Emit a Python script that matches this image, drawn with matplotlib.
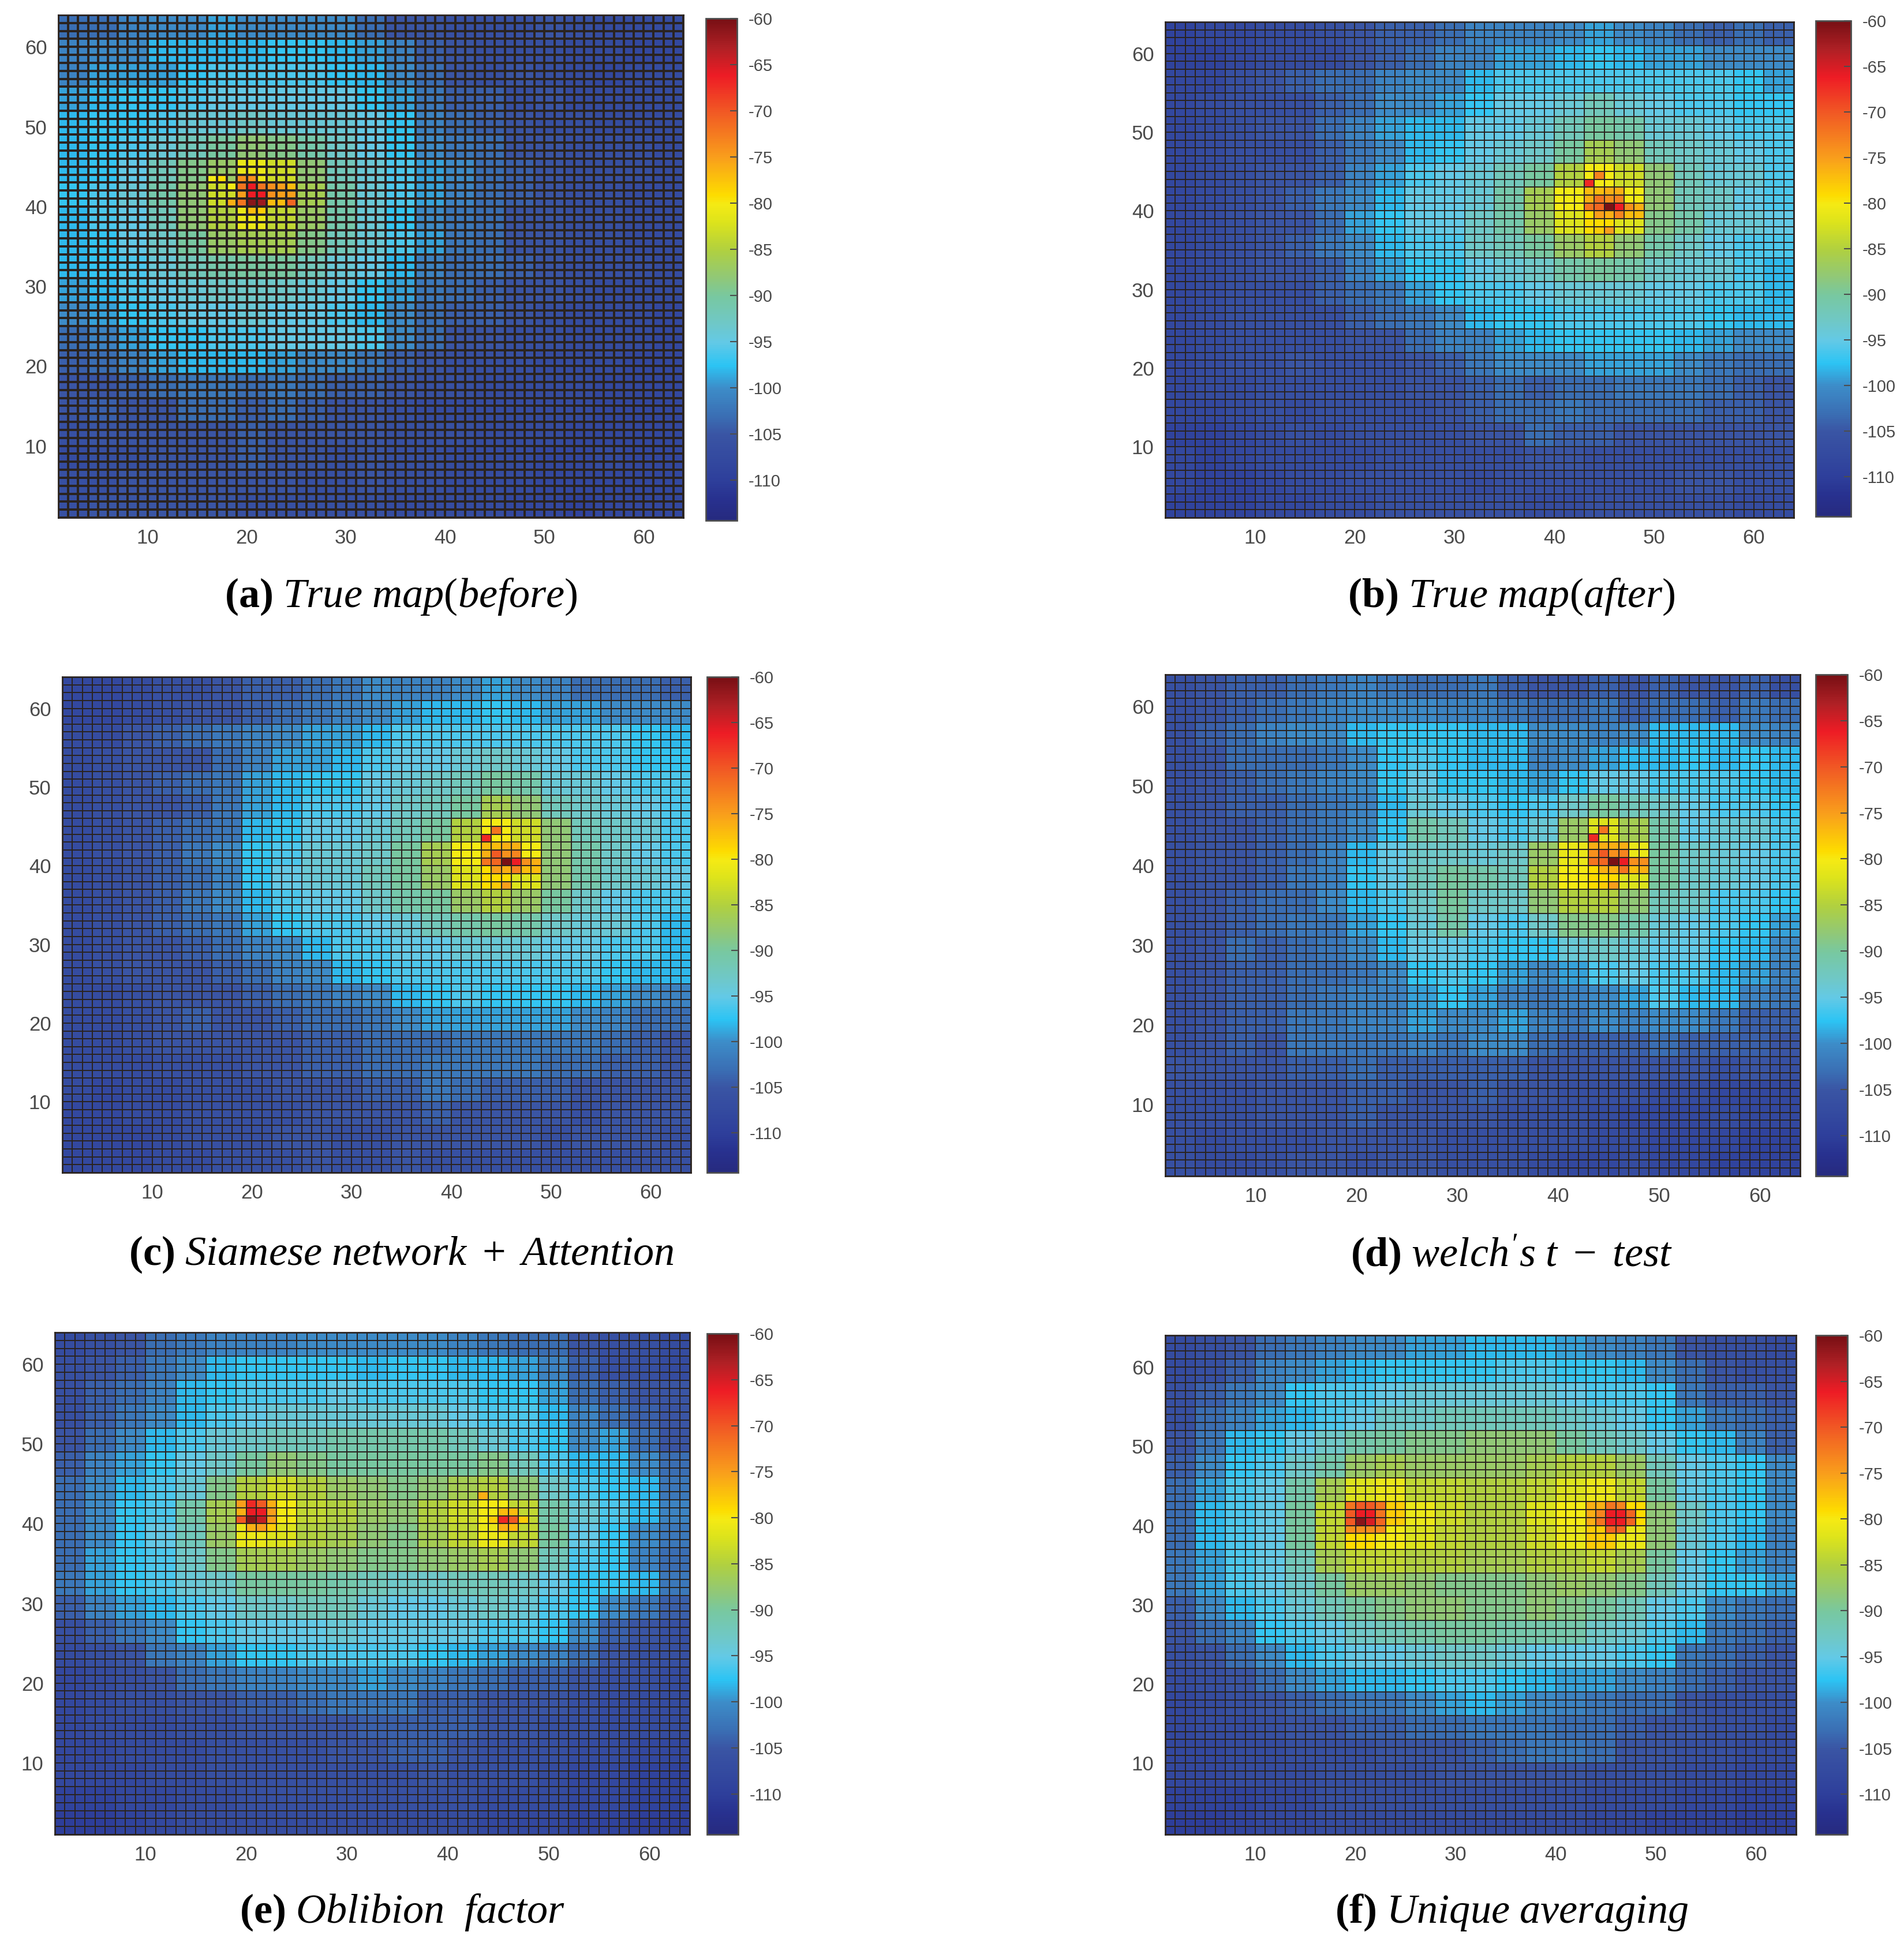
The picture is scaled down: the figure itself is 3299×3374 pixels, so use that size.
import numpy as np
import matplotlib
matplotlib.use("Agg")
import matplotlib.pyplot as plt
from matplotlib.colors import LinearSegmentedColormap

# Valores, en bloques de 3x3 celdas.
# Filas de arriba (y=62.5) hacia abajo (y=2.5), columnas de x=2.5 a x=62.5
MAP_A = [
    [-103,-103,-101,-100,-100,-99,-100,-100,-100,-100,-103,-105,-105,-106,-106,-106,-105,-106,-107,-107,-107],
    [-101,-100,-100,-98,-98,-98,-98,-97,-97,-98,-99,-101,-104,-105,-106,-106,-106,-107,-107,-108,-108],
    [-101,-99,-99,-99,-97,-96,-96,-96,-96,-97,-98,-100,-103,-105,-106,-105,-106,-107,-108,-107,-107],
    [-99,-98,-97,-97,-96,-95,-95,-95,-95,-95,-97,-99,-102,-104,-104,-106,-105,-107,-107,-107,-107],
    [-98,-97,-97,-96,-94,-94,-93,-94,-94,-94,-95,-97,-101,-103,-104,-105,-106,-106,-107,-107,-107],
    [-98,-97,-96,-94,-92,-90,-88,-89,-91,-93,-95,-97,-100,-102,-103,-105,-105,-106,-106,-106,-107],
    [-98,-97,-95,-92,-89,-87,-81,-83,-88,-92,-94,-96,-99,-100,-103,-104,-105,-106,-106,-106,-107],
    [-97,-96,-94,-91,-88,-83,-78,-80,-86,-91,-94,-96,-99,-101,-103,-104,-105,-106,-106,-107,-107],
    [-98,-96,-95,-92,-88,-85,-81,-84,-87,-91,-94,-97,-100,-102,-103,-105,-105,-106,-106,-107,-107],
    [-98,-97,-95,-93,-90,-87,-86,-86,-89,-92,-94,-96,-99,-102,-103,-105,-105,-106,-106,-107,-107],
    [-98,-97,-96,-94,-92,-91,-90,-90,-92,-94,-95,-98,-101,-103,-103,-104,-105,-106,-106,-106,-107],
    [-99,-98,-96,-95,-94,-93,-93,-93,-94,-95,-97,-99,-102,-103,-104,-105,-105,-106,-107,-107,-107],
    [-100,-99,-97,-96,-95,-95,-94,-95,-95,-96,-98,-100,-103,-104,-104,-105,-106,-107,-107,-107,-108],
    [-103,-101,-99,-97,-97,-96,-96,-95,-95,-95,-96,-100,-103,-105,-105,-106,-106,-107,-107,-107,-108],
    [-104,-103,-101,-99,-98,-98,-98,-99,-100,-100,-102,-104,-105,-106,-106,-106,-107,-107,-107,-108,-108],
    [-105,-105,-104,-103,-102,-102,-103,-102,-103,-104,-104,-105,-106,-106,-107,-107,-107,-107,-108,-108,-108],
    [-105,-104,-105,-105,-103,-103,-104,-103,-104,-105,-105,-106,-107,-107,-107,-107,-107,-107,-108,-108,-108],
    [-106,-105,-105,-105,-105,-105,-104,-105,-105,-105,-105,-106,-106,-106,-107,-107,-107,-108,-108,-108,-108],
    [-107,-106,-106,-105,-105,-105,-104,-105,-105,-106,-105,-106,-106,-107,-107,-107,-108,-108,-107,-108,-108],
    [-106,-106,-105,-105,-105,-105,-105,-105,-106,-106,-105,-106,-106,-107,-107,-107,-108,-108,-108,-108,-108],
    [-106,-105,-105,-105,-105,-105,-106,-106,-106,-106,-106,-107,-107,-107,-107,-108,-108,-109,-108,-108,-108],
]
MAP_B = [
    [-109,-108,-108,-107,-107,-106,-105,-104,-104,-103,-101,-101,-101,-100,-99,-100,-101,-103,-104,-103,-104],
    [-109,-109,-108,-107,-107,-107,-105,-104,-103,-101,-101,-99,-99,-98,-97,-98,-99,-99,-100,-100,-100],
    [-108,-108,-106,-105,-104,-103,-103,-101,-100,-100,-98,-96,-96,-96,-96,-96,-96,-96,-96,-97,-99],
    [-108,-107,-106,-106,-106,-104,-103,-100,-100,-99,-97,-95,-95,-94,-92,-94,-95,-96,-96,-97,-97],
    [-108,-107,-106,-105,-105,-103,-101,-99,-98,-98,-95,-95,-94,-92,-90,-91,-94,-94,-95,-96,-96],
    [-108,-107,-106,-106,-106,-104,-102,-100,-98,-97,-95,-94,-93,-90,-86,-88,-92,-93,-94,-95,-96],
    [-108,-107,-106,-105,-105,-104,-101,-99,-96,-95,-94,-92,-90,-85,-80,-83,-88,-92,-94,-94,-96],
    [-108,-107,-106,-105,-104,-102,-100,-98,-95,-95,-94,-91,-86,-80,-77,-80,-88,-92,-93,-95,-96],
    [-108,-107,-106,-105,-105,-103,-99,-97,-95,-95,-93,-91,-87,-82,-79,-82,-89,-91,-94,-94,-95],
    [-108,-107,-106,-105,-104,-102,-100,-98,-96,-96,-93,-92,-90,-87,-85,-88,-91,-93,-95,-96,-96],
    [-108,-107,-106,-105,-105,-104,-101,-99,-97,-97,-95,-94,-93,-91,-90,-91,-93,-94,-94,-96,-98],
    [-108,-107,-106,-106,-106,-104,-103,-102,-99,-97,-96,-96,-95,-94,-94,-94,-95,-95,-96,-96,-98],
    [-108,-107,-106,-106,-106,-106,-104,-103,-102,-100,-98,-97,-97,-96,-96,-96,-96,-96,-97,-98,-98],
    [-108,-107,-106,-106,-106,-106,-105,-105,-103,-101,-101,-99,-98,-97,-97,-97,-97,-98,-99,-100,-100],
    [-108,-107,-106,-106,-105,-106,-106,-106,-105,-104,-102,-100,-100,-100,-99,-99,-99,-100,-102,-103,-103],
    [-108,-107,-107,-106,-106,-106,-106,-106,-105,-105,-104,-103,-104,-103,-103,-102,-102,-102,-103,-104,-105],
    [-108,-108,-107,-106,-107,-106,-106,-106,-106,-105,-104,-103,-103,-102,-103,-103,-103,-103,-104,-104,-105],
    [-109,-109,-108,-107,-106,-107,-106,-106,-106,-106,-105,-105,-103,-104,-104,-105,-105,-105,-105,-105,-105],
    [-108,-109,-108,-107,-107,-107,-107,-106,-106,-106,-106,-106,-105,-105,-106,-106,-106,-106,-106,-106,-106],
    [-108,-109,-109,-108,-107,-107,-106,-106,-106,-106,-107,-106,-106,-106,-106,-106,-106,-105,-105,-106,-106],
    [-109,-109,-109,-108,-108,-107,-107,-106,-106,-106,-106,-106,-107,-107,-106,-106,-106,-106,-106,-107,-107],
]
MAP_C = [
    [-108,-108,-107,-106,-106,-105,-104,-104,-103,-102,-100,-101,-101,-100,-99,-100,-101,-103,-103,-103,-104],
    [-108,-108,-107,-106,-105,-105,-104,-103,-102,-101,-100,-99,-98,-98,-97,-98,-99,-99,-100,-100,-100],
    [-107,-107,-105,-104,-103,-102,-101,-100,-99,-99,-98,-96,-96,-96,-96,-96,-96,-96,-96,-97,-98],
    [-107,-106,-105,-105,-105,-103,-101,-99,-99,-98,-96,-95,-95,-94,-93,-94,-95,-96,-96,-97,-97],
    [-107,-106,-105,-104,-103,-102,-99,-98,-97,-97,-95,-94,-93,-92,-90,-91,-94,-94,-95,-96,-96],
    [-107,-106,-105,-105,-104,-102,-99,-98,-96,-96,-95,-93,-92,-90,-86,-88,-92,-93,-94,-95,-96],
    [-107,-106,-105,-104,-103,-102,-98,-97,-95,-95,-94,-92,-90,-85,-80,-83,-88,-92,-93,-94,-96],
    [-107,-106,-105,-104,-102,-100,-97,-96,-94,-94,-93,-90,-86,-80,-77,-80,-88,-91,-93,-95,-96],
    [-107,-106,-105,-104,-103,-101,-97,-95,-94,-94,-92,-90,-87,-82,-79,-82,-88,-91,-93,-94,-95],
    [-107,-106,-105,-104,-102,-100,-98,-96,-95,-95,-93,-91,-90,-87,-85,-87,-90,-93,-95,-96,-96],
    [-107,-106,-105,-104,-103,-102,-99,-97,-96,-96,-95,-94,-92,-91,-90,-91,-93,-94,-94,-96,-98],
    [-107,-106,-105,-105,-104,-103,-101,-100,-98,-96,-96,-95,-95,-94,-94,-94,-95,-95,-96,-96,-98],
    [-107,-106,-105,-105,-105,-104,-103,-101,-100,-98,-97,-96,-96,-96,-96,-96,-96,-96,-97,-98,-98],
    [-107,-107,-106,-105,-105,-105,-104,-103,-102,-101,-100,-98,-97,-96,-97,-97,-97,-98,-99,-100,-101],
    [-107,-107,-106,-105,-104,-105,-105,-104,-103,-103,-102,-100,-99,-99,-99,-99,-99,-100,-101,-103,-103],
    [-107,-107,-106,-105,-105,-105,-105,-105,-104,-104,-103,-103,-103,-102,-102,-102,-102,-102,-103,-104,-105],
    [-107,-107,-107,-106,-106,-106,-105,-105,-104,-104,-103,-103,-102,-102,-102,-102,-103,-103,-104,-104,-105],
    [-107,-108,-107,-107,-106,-106,-106,-105,-105,-105,-104,-104,-102,-103,-104,-104,-104,-105,-105,-105,-105],
    [-108,-108,-107,-107,-106,-106,-106,-106,-105,-105,-105,-105,-104,-105,-105,-105,-105,-106,-105,-105,-105],
    [-108,-108,-108,-107,-106,-106,-106,-105,-105,-106,-106,-105,-105,-105,-105,-105,-106,-105,-105,-105,-106],
    [-108,-108,-108,-107,-107,-106,-106,-106,-105,-106,-106,-105,-106,-106,-106,-106,-106,-106,-106,-106,-106],
]
MAP_D = [
    [-106,-105,-104,-104,-103,-102,-101,-102,-103,-103,-102,-104,-105,-105,-104,-105,-104,-105,-105,-104,-106],
    [-106,-105,-104,-103,-102,-101,-100,-100,-100,-101,-101,-102,-103,-103,-102,-104,-103,-103,-104,-102,-103],
    [-106,-104,-103,-101,-100,-100,-98,-97,-97,-97,-98,-98,-100,-100,-101,-100,-98,-98,-98,-100,-101],
    [-106,-105,-103,-103,-103,-102,-100,-97,-96,-97,-98,-98,-101,-100,-99,-98,-98,-97,-98,-97,-98],
    [-106,-105,-104,-103,-102,-101,-100,-97,-95,-97,-97,-98,-99,-97,-95,-95,-96,-96,-96,-97,-98],
    [-106,-105,-104,-104,-103,-102,-101,-98,-94,-95,-96,-97,-96,-93,-90,-92,-93,-95,-96,-96,-97],
    [-106,-105,-105,-104,-103,-102,-100,-97,-91,-92,-95,-96,-94,-87,-82,-86,-91,-95,-94,-94,-96],
    [-106,-105,-105,-104,-103,-101,-98,-95,-93,-93,-94,-93,-87,-81,-76,-81,-90,-93,-94,-95,-96],
    [-106,-105,-105,-104,-102,-101,-97,-95,-92,-90,-91,-92,-85,-80,-79,-82,-90,-93,-94,-95,-96],
    [-106,-105,-104,-103,-103,-100,-98,-96,-93,-90,-93,-93,-88,-85,-85,-88,-92,-93,-96,-96,-97],
    [-106,-105,-104,-103,-102,-102,-99,-97,-94,-91,-95,-96,-93,-89,-89,-91,-94,-95,-96,-97,-99],
    [-106,-105,-103,-104,-103,-102,-100,-98,-95,-95,-96,-97,-97,-94,-93,-94,-95,-95,-97,-98,-100],
    [-106,-105,-104,-104,-103,-103,-102,-100,-97,-96,-97,-99,-100,-99,-96,-95,-96,-96,-98,-99,-101],
    [-106,-105,-104,-104,-103,-102,-101,-101,-99,-97,-99,-101,-102,-101,-100,-99,-96,-98,-98,-101,-102],
    [-106,-105,-104,-104,-102,-102,-101,-101,-99,-100,-100,-99,-101,-102,-100,-101,-100,-100,-102,-104,-104],
    [-106,-105,-104,-105,-102,-102,-102,-102,-101,-102,-100,-100,-103,-104,-104,-104,-103,-104,-104,-104,-105],
    [-105,-105,-105,-105,-104,-104,-103,-104,-104,-104,-104,-104,-105,-105,-105,-105,-105,-105,-106,-105,-106],
    [-106,-106,-106,-105,-105,-105,-104,-104,-105,-105,-104,-105,-105,-106,-106,-106,-107,-107,-108,-108,-108],
    [-106,-106,-106,-105,-105,-105,-104,-105,-105,-105,-105,-106,-106,-106,-107,-108,-108,-108,-107,-108,-108],
    [-106,-107,-106,-106,-106,-105,-105,-105,-105,-106,-106,-106,-106,-106,-107,-107,-108,-108,-108,-109,-109],
    [-106,-107,-107,-106,-105,-105,-106,-105,-105,-106,-106,-106,-107,-108,-108,-107,-108,-108,-109,-109,-109],
]
MAP_E = [
    [-107,-106,-105,-103,-102,-101,-101,-101,-100,-100,-100,-100,-100,-101,-102,-103,-103,-105,-106,-106,-107],
    [-106,-105,-104,-102,-100,-98,-97,-97,-97,-97,-98,-97,-97,-98,-98,-99,-101,-104,-106,-106,-107],
    [-106,-104,-103,-101,-98,-97,-96,-96,-96,-95,-96,-96,-96,-96,-97,-97,-99,-103,-104,-105,-105],
    [-106,-104,-102,-100,-98,-96,-95,-94,-94,-94,-94,-94,-94,-95,-96,-96,-98,-101,-103,-104,-105],
    [-105,-103,-100,-98,-96,-94,-93,-92,-92,-91,-91,-91,-91,-92,-94,-96,-97,-100,-99,-103,-105],
    [-104,-101,-99,-97,-95,-93,-90,-88,-89,-90,-90,-90,-90,-90,-89,-92,-96,-98,-98,-100,-103],
    [-103,-100,-98,-96,-94,-89,-85,-83,-85,-87,-88,-89,-88,-86,-85,-88,-93,-96,-97,-98,-102],
    [-103,-100,-97,-96,-91,-86,-80,-80,-84,-85,-87,-88,-85,-83,-80,-84,-91,-94,-96,-98,-101],
    [-103,-100,-97,-95,-92,-87,-81,-82,-85,-86,-88,-89,-86,-84,-81,-84,-90,-95,-97,-100,-102],
    [-103,-99,-97,-96,-93,-89,-86,-86,-87,-88,-89,-89,-88,-87,-86,-88,-92,-96,-97,-101,-103],
    [-102,-99,-97,-96,-94,-93,-90,-90,-90,-91,-92,-93,-93,-92,-92,-93,-95,-97,-97,-98,-102],
    [-104,-101,-99,-98,-96,-95,-93,-93,-92,-92,-94,-95,-95,-94,-93,-94,-96,-97,-100,-102,-104],
    [-106,-104,-102,-100,-97,-96,-95,-95,-95,-94,-95,-95,-95,-95,-96,-96,-97,-100,-104,-105,-106],
    [-107,-106,-105,-102,-101,-99,-97,-97,-96,-96,-96,-96,-97,-98,-99,-100,-101,-103,-105,-106,-106],
    [-108,-107,-106,-105,-103,-102,-101,-101,-100,-100,-99,-100,-101,-102,-103,-104,-104,-105,-106,-106,-107],
    [-108,-107,-106,-106,-105,-105,-104,-104,-103,-102,-102,-102,-104,-104,-105,-105,-105,-106,-107,-107,-107],
    [-108,-107,-107,-107,-106,-106,-105,-105,-105,-105,-104,-104,-104,-104,-105,-105,-106,-106,-107,-107,-107],
    [-108,-108,-107,-107,-107,-106,-106,-106,-106,-105,-105,-104,-104,-105,-106,-106,-106,-107,-107,-108,-108],
    [-108,-108,-108,-107,-107,-106,-106,-106,-106,-106,-106,-106,-105,-106,-106,-106,-107,-108,-108,-109,-109],
    [-109,-109,-108,-108,-107,-107,-106,-106,-106,-106,-106,-106,-106,-106,-107,-107,-107,-108,-108,-109,-109],
    [-110,-110,-109,-108,-107,-107,-107,-107,-107,-107,-107,-107,-107,-107,-108,-108,-108,-109,-109,-110,-110],
]
MAP_F = [
    [-107,-106,-105,-103,-102,-101,-100,-100,-99,-99,-98,-98,-98,-99,-100,-101,-102,-105,-106,-106,-107],
    [-107,-106,-104,-101,-100,-99,-98,-97,-97,-97,-97,-96,-96,-97,-97,-98,-100,-103,-105,-106,-106],
    [-106,-104,-102,-100,-97,-96,-96,-95,-94,-94,-94,-94,-94,-95,-96,-96,-97,-102,-104,-104,-105],
    [-106,-103,-101,-99,-98,-96,-95,-93,-93,-92,-92,-92,-92,-93,-94,-95,-97,-99,-102,-103,-104],
    [-105,-102,-98,-97,-95,-93,-91,-90,-89,-89,-88,-88,-88,-90,-92,-93,-95,-97,-98,-101,-104],
    [-104,-100,-97,-96,-93,-91,-87,-86,-87,-87,-87,-87,-86,-85,-85,-87,-92,-95,-96,-97,-100],
    [-103,-99,-96,-95,-91,-86,-82,-81,-84,-84,-85,-85,-84,-82,-81,-84,-90,-95,-96,-97,-100],
    [-103,-98,-96,-95,-90,-84,-77,-78,-81,-83,-85,-85,-82,-80,-76,-79,-88,-93,-96,-97,-100],
    [-103,-98,-96,-95,-90,-84,-79,-80,-82,-84,-85,-85,-83,-81,-78,-81,-88,-94,-96,-98,-101],
    [-102,-99,-96,-95,-92,-86,-84,-84,-85,-85,-86,-86,-85,-85,-84,-86,-90,-95,-97,-99,-101],
    [-102,-99,-96,-95,-93,-90,-87,-87,-88,-89,-89,-89,-88,-87,-88,-89,-92,-95,-97,-97,-99],
    [-104,-100,-98,-96,-94,-92,-90,-89,-88,-88,-89,-89,-88,-89,-90,-92,-95,-96,-100,-102,-103],
    [-105,-103,-101,-97,-96,-95,-93,-92,-91,-90,-90,-91,-91,-91,-93,-94,-96,-98,-102,-103,-104],
    [-106,-105,-103,-100,-98,-96,-95,-95,-94,-93,-93,-94,-95,-95,-95,-96,-97,-102,-103,-104,-105],
    [-107,-106,-105,-103,-100,-99,-98,-98,-97,-96,-96,-97,-98,-99,-99,-100,-101,-103,-104,-105,-105],
    [-108,-107,-106,-105,-104,-103,-102,-102,-100,-99,-98,-99,-100,-101,-102,-103,-103,-105,-106,-106,-106],
    [-108,-107,-107,-106,-105,-105,-104,-104,-103,-103,-102,-102,-102,-103,-103,-104,-105,-105,-106,-106,-107],
    [-108,-108,-107,-107,-106,-106,-106,-105,-105,-105,-104,-103,-102,-102,-103,-105,-105,-106,-106,-107,-107],
    [-108,-108,-107,-107,-107,-106,-106,-106,-106,-105,-105,-105,-105,-105,-106,-106,-106,-107,-107,-108,-108],
    [-109,-109,-109,-108,-108,-106,-106,-106,-106,-106,-106,-106,-106,-106,-107,-107,-107,-108,-108,-109,-109],
    [-110,-110,-109,-108,-108,-107,-107,-107,-107,-107,-107,-107,-107,-107,-108,-108,-109,-109,-109,-110,-110],
]

# Celdas sueltas cerca de los picos: (columna, fila, dBm)
PEAK_A = [(20,40,-61),(21,40,-62),(20,41,-66),(21,41,-66),(20,42,-66),(19,40,-72),(19,41,-75),
          (19,42,-72),(21,42,-72),(22,41,-74),(18,40,-76),(22,40,-77),(23,40,-77),(24,40,-71),
          (23,41,-75),(24,41,-75),(20,39,-77),(21,39,-78),(19,43,-74),(20,43,-74),(18,42,-80),
          (17,43,-79),(16,43,-80),(23,42,-75),(24,42,-77),(22,42,-74)]
PEAK_B = [(45,40,-60),(46,40,-66),(43,43,-67),(44,44,-73),(43,40,-72),(44,40,-71),(47,40,-74),
          (48,40,-76),(44,41,-72),(45,41,-74),(46,41,-73),(43,41,-76),(45,42,-76),(46,42,-76),
          (44,39,-75),(45,39,-76),(46,39,-73),(47,39,-77),(48,39,-77),(44,37,-78),(45,37,-75)]
PEAK_C = [(45,40,-60),(46,40,-66),(43,43,-67),(44,44,-72),(43,40,-72),(44,40,-71),(47,40,-74),
          (48,40,-76),(44,41,-70),(45,41,-74),(46,41,-73),(43,41,-76),(45,42,-76),(46,42,-76),
          (44,39,-75),(45,39,-76),(46,39,-73),(47,39,-77),(48,39,-77),(44,37,-78),(45,37,-75)]
PEAK_D = [(45,40,-60),(46,40,-66),(43,43,-67),(44,44,-72),(43,40,-72),(44,40,-71),(47,40,-74),
          (48,40,-74),(44,41,-70),(45,41,-74),(46,41,-73),(43,41,-74),(45,42,-76),(46,42,-76),
          (44,39,-76),(45,39,-76),(46,39,-72),(47,39,-77),(48,39,-76),(44,37,-78),(45,37,-75)]
PEAK_E = [(20,40,-61),(21,40,-64),(20,41,-66),(21,41,-66),(20,42,-67),(21,42,-70),(19,40,-70),
          (22,40,-75),(19,41,-76),(22,41,-75),(19,42,-75),(22,42,-76),(20,39,-76),(21,39,-75),
          (22,39,-78),(45,40,-67),(46,40,-70),(44,40,-78),(47,40,-78),(45,39,-76),(46,39,-77),
          (45,41,-77),(46,41,-77),(43,43,-76)]
PEAK_F = [(20,40,-61),(21,40,-65),(19,40,-70),(22,40,-71),(20,41,-66),(21,41,-66),(19,41,-70),
          (22,41,-72),(19,42,-72),(20,42,-70),(21,42,-70),(22,42,-72),(19,39,-74),(20,39,-74),
          (21,39,-74),(22,39,-74),(45,40,-66),(46,40,-66),(45,41,-66),(46,41,-66),(44,40,-72),
          (47,40,-71),(44,41,-73),(47,41,-71),(45,42,-72),(46,42,-73),(45,39,-71),(46,39,-71)]

MAPS = [MAP_A, MAP_B, MAP_C, MAP_D, MAP_E, MAP_F]
PEAKS = [PEAK_A, PEAK_B, PEAK_C, PEAK_D, PEAK_E, PEAK_F]
LETTERS = ["a", "b", "c", "d", "e", "f"]
TITLES = [r"True\ map(before)", r"True\ map(after)", r"Siamese\ network\ +\ Attention",
          r"welch's\ t\ -\ test", r"Oblibion\ \ factor", r"Unique\ averaging"]
XY_TICKS = [10, 20, 30, 40, 50, 60]
CB_TICKS = [-60, -65, -70, -75, -80, -85, -90, -95, -100, -105, -110]

# Posicion en pixeles de la imagen final: x0, x1, y0, y1
W, H = 3299, 3374
AX_BOX = [(101, 1184, 26, 897), (2019, 3108, 38, 897), (108, 1197, 1173, 2032),
          (2019, 3119, 1169, 2038), (95, 1195, 2309, 3179), (2019, 3112, 2314, 3179)]
CB_BOX = [(1223, 1277, 32, 902), (3146, 3207, 36, 895), (1225, 1279, 1173, 2032),
          (3146, 3201, 1169, 2038), (1225, 1279, 2311, 3179), (3146, 3201, 2314, 3179)]
CAPTION_XY = [(695, 1034), (2619, 1034), (695, 2174), (2619, 2174), (697, 3314), (2619, 3314)]
GRID_PX = [2.4, 2.0, 2.0, 2.0, 2.0, 2.0]

# Colores del colorbar, con la posicion segun su valor en dBm
CMAP_DB = [-114.4, -112, -110, -105, -103, -100, -97.5, -95, -93, -90, -88, -85,
           -82, -80, -79, -75, -70, -66, -63, -60]
CMAP_COL = ["#262a7e", "#28318f", "#2e3f9b", "#3a55a4", "#3a6fb4", "#3d8cc8", "#2cc4f4",
            "#63c9e6", "#6fc8c8", "#78c8a0", "#90c878", "#b0d040", "#dce31c", "#f5ea14",
            "#fddc00", "#f9a01b", "#f15a24", "#ee1c25", "#b02025", "#7a1015"]
cmap = LinearSegmentedColormap.from_list(
    "rssi", [(round((v + 114.4) / 54.4, 6), c) for v, c in zip(CMAP_DB, CMAP_COL)])

plt.rcParams["font.family"] = ["Liberation Sans", "DejaVu Sans"]
plt.rcParams["mathtext.fontset"] = "custom"
plt.rcParams["mathtext.rm"] = "Liberation Serif"
plt.rcParams["mathtext.it"] = "Liberation Serif:italic"
plt.rcParams["mathtext.bf"] = "Liberation Serif:bold"

fig = plt.figure(figsize=(W / 100, H / 100), dpi=100)
edges = np.arange(1, 65)

def rect(box):
    x0, x1, y0, y1 = box
    return [x0 / W, 1 - y1 / H, (x1 - x0) / W, (y1 - y0) / H]

for i in range(6):
    grid = np.repeat(np.repeat(np.array(MAPS[i], dtype=float)[::-1], 3, axis=0), 3, axis=1)
    for col, row, val in PEAKS[i]:
        grid[row - 1, col - 1] = val

    ax = fig.add_axes(rect(AX_BOX[i]))
    mesh = ax.pcolormesh(edges, edges, grid, cmap=cmap, vmin=-114.4, vmax=-60,
                         edgecolors="#2a2320", linewidth=GRID_PX[i] * 0.72)
    ax.set_xticks(XY_TICKS)
    ax.set_yticks(XY_TICKS)
    ax.tick_params(length=0, labelsize=25, labelcolor="#4a4a4a", pad=14)
    for spine in ax.spines.values():
        spine.set_color("#2a2320")
        spine.set_linewidth(2)

    cax = fig.add_axes(rect(CB_BOX[i]))
    cb = fig.colorbar(mesh, cax=cax)
    cb.solids.set_edgecolor("face")
    cb.set_ticks(CB_TICKS)
    cb.set_ticklabels([str(t) for t in CB_TICKS])
    cax.tick_params(direction="in", length=9, width=1.5, color="#4d4d4d",
                    labelsize=21, labelcolor="#4a4a4a", pad=14)
    cb.outline.set_edgecolor("#4d4d4d")
    cb.outline.set_linewidth(2)

    x, y = CAPTION_XY[i]
    fig.text(x / W, 1 - y / H, rf"$\mathbf{{({LETTERS[i]})}}\ \mathit{{{TITLES[i]}}}$",
             fontsize=52, ha="center", va="center", color="black")

fig.savefig("out.png", dpi=100)
